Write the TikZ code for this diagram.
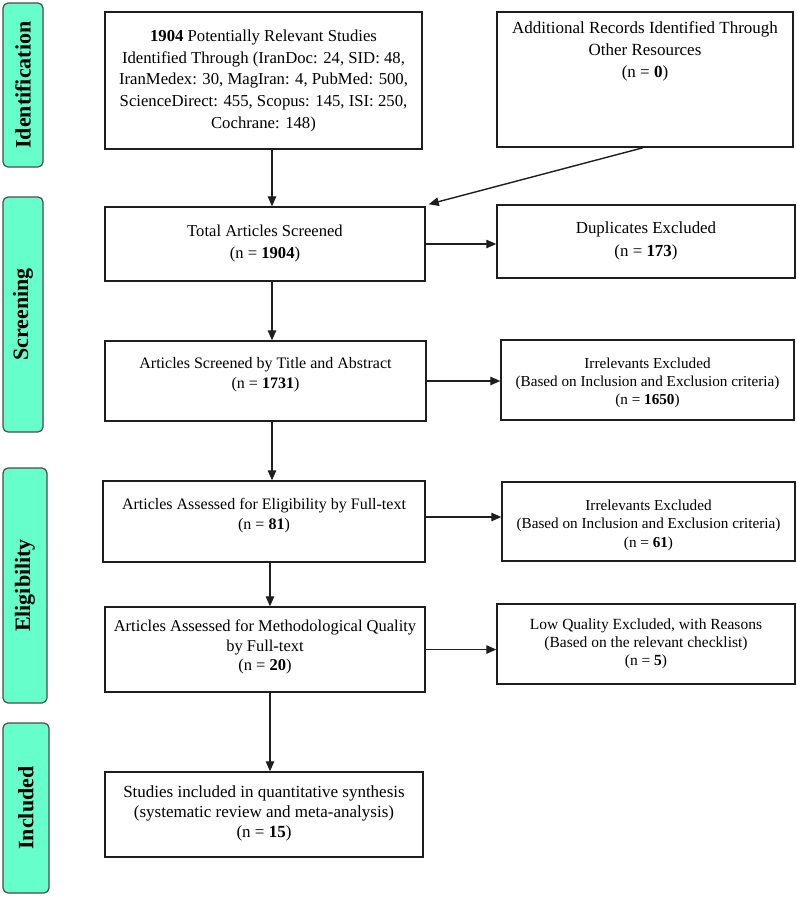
\documentclass[tikz,border=0pt]{standalone}
\usepackage{fontspec}
\setmainfont{Liberation Serif}
\usetikzlibrary{arrows.meta,calc}
\definecolor{barfill}{RGB}{102,255,204}
\definecolor{ink}{RGB}{30,30,30}
\newcommand\boxtxt[6]{\parbox[c][#2pt][t]{#1pt}{\centering\fontsize{#4pt}{#5pt}\selectfont\vspace*{#3pt}#6}}
\tikzset{
  box/.style={draw=ink, line width=1.5pt, inner sep=0pt, fill=white},
  stagebar/.style={draw=ink!80, line width=1.2pt, rounded corners=5pt, fill=barfill, rotate=90,
     inner sep=0pt, font=\fontsize{22pt}{24pt}\selectfont\bfseries},
  arr/.style={draw=ink, line width=1.4pt, -{Triangle[length=10pt,width=8.5pt]}}
}
\begin{document}
\begin{tikzpicture}[x=1pt,y=-1pt]
\useasboundingbox[fill=white] (0,0) rectangle (797,906);
% stage bars
\node[stagebar, minimum width=164pt, minimum height=40pt] (sid) at (23,85) {Identification};
\node[stagebar, minimum width=235pt, minimum height=40pt] (sscr) at (23,314.5) {Screening};
\node[stagebar, minimum width=235pt, minimum height=44pt] (selig) at (25,585.5) {Eligibility};
\node[stagebar, minimum width=170pt, minimum height=46pt] (sinc) at (26,808) {Included};
% boxes
\node[box] (b1) at (263.5,80.5) {\boxtxt{317}{137}{18}{16.7}{21.7}{\textbf{1904} Potentially Relevant Studies\\ Identified Through (IranDoc: 24, SID: 48,\\ IranMedex: 30, MagIran: 4, PubMed: 500,\\ ScienceDirect: 455, Scopus: 145, ISI: 250,\\ Cochrane: 148)}};
\node[box] (b2) at (645,79.5) {\boxtxt{296}{135}{10}{17}{22}{Additional Records Identified Through\\ Other Resources\\ (n = \textbf{0})}};
\node[box] (tot) at (265,244) {\boxtxt{320}{74}{18}{16.6}{22}{Total Articles Screened\\ (n = \textbf{1904})}};
\node[box] (dup) at (646,241.5) {\boxtxt{298}{73}{17}{16.9}{23}{Duplicates Excluded\\ (n = \textbf{173})}};
\node[box] (title) at (265.5,381) {\boxtxt{321}{80}{16}{16}{20}{Articles Screened by Title and Abstract\\ (n = \textbf{1731})}};
\node[box] (irr1) at (647.5,380) {\boxtxt{293}{80}{17.5}{15.2}{18}{Irrelevants Excluded\\ (Based on Inclusion and Exclusion criteria)\\ (n = \textbf{1650})}};
\node[box] (elig) at (264,521.5) {\boxtxt{322}{81}{17}{16}{20}{Articles Assessed for Eligibility by Full-text\\ (n = \textbf{81})}};
\node[box] (irr2) at (648.5,521.5) {\boxtxt{293}{79}{17.5}{15.2}{18.5}{Irrelevants Excluded\\ (Based on Inclusion and Exclusion criteria)\\ (n = \textbf{61})}};
\node[box] (meth) at (265,649.5) {\boxtxt{320}{85}{13}{16.5}{19.5}{Articles Assessed for Methodological Quality\\ by Full-text\\ (n = \textbf{20})}};
\node[box] (low) at (646,644) {\boxtxt{298}{80}{15}{15.5}{18}{Low Quality Excluded, with Reasons\\ (Based on the relevant checklist)\\ (n = \textbf{5})}};
\node[box] (stud) at (264,814.5) {\boxtxt{318}{85}{14}{17}{20}{Studies included in quantitative synthesis\\ (systematic review and meta-analysis)\\ (n = \textbf{15})}};
% spines
\coordinate (spine) at (272,0);
\coordinate (spineb) at (270,0);
% connectors
\draw[arr] (b1.south -| spine) -- (tot.north -| spine);
\draw[arr] ([xshift=-2pt]b2.south) -- ([xshift=3pt,yshift=2pt]tot.north east);
\draw[arr] (tot.east) -- (tot.east -| dup.west);
\draw[arr] (tot.south -| spine) -- (title.north -| spine);
\draw[arr] (title.east) -- (title.east -| irr1.west);
\draw[arr] (title.south -| spine) -- (elig.north -| spine);
\draw[arr] ([yshift=4.5pt]elig.east) -- ([yshift=4.5pt]elig.east -| irr2.west);
\draw[arr] (elig.south -| spineb) -- (meth.north -| spineb);
\draw[arr] (meth.east) -- (meth.east -| low.west);
\draw[arr] (meth.south -| spineb) -- (stud.north -| spineb);
\end{tikzpicture}
\end{document}
